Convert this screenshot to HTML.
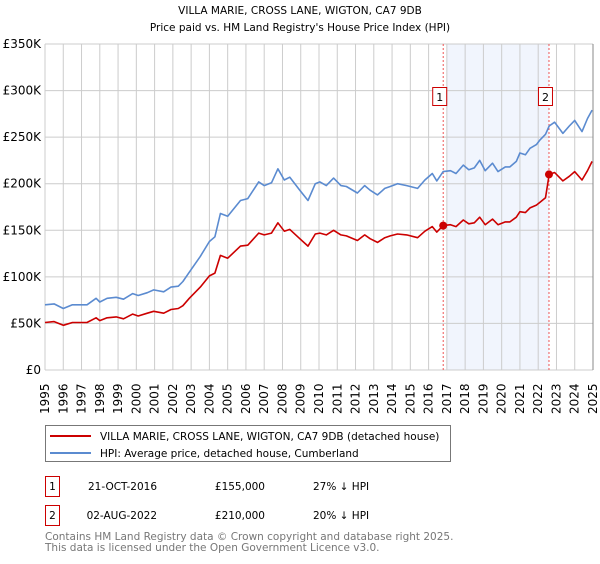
<!DOCTYPE html>
<html><head><meta charset="utf-8"><style>
body{margin:0;width:600px;height:560px;background:#fff;font-family:"DejaVu Sans","Liberation Sans",sans-serif;overflow:hidden}
svg text{font-family:"DejaVu Sans","Liberation Sans",sans-serif}
</style></head><body>
<svg id="c" width="600" height="560">
<text x="300" y="14" text-anchor="middle" font-size="10.5">VILLA MARIE, CROSS LANE, WIGTON, CA7 9DB</text>
<text x="300" y="31" text-anchor="middle" font-size="10.5">Price paid vs. HM Land Registry's House Price Index (HPI)</text>
<g id="grid"></g><g id="series"></g><g id="axes"></g>
<g>
<rect x="45.5" y="425.5" width="405" height="36" fill="#fff" stroke="#777"/>
<line x1="50" y1="436" x2="91" y2="436" stroke="#cc0000" stroke-width="2"/>
<text x="100" y="440" font-size="10.5">VILLA MARIE, CROSS LANE, WIGTON, CA7 9DB (detached house)</text>
<line x1="50" y1="453" x2="91" y2="453" stroke="#5b8bd0" stroke-width="2"/>
<text x="100" y="457" font-size="10.5">HPI: Average price, detached house, Cumberland</text>
</g>
<g font-size="10.5">
<rect x="45.5" y="476.5" width="14" height="20" fill="#fff" stroke="#cc0000"/>
<text x="52.5" y="490" text-anchor="middle">1</text>
<text x="157" y="490" text-anchor="end">21-OCT-2016</text>
<text x="265" y="490" text-anchor="end">£155,000</text>
<text x="313" y="490">27% ↓ HPI</text>
<rect x="45.5" y="505.5" width="14" height="20" fill="#fff" stroke="#cc0000"/>
<text x="52.5" y="519" text-anchor="middle">2</text>
<text x="157" y="519" text-anchor="end">02-AUG-2022</text>
<text x="265" y="519" text-anchor="end">£210,000</text>
<text x="313" y="519">20% ↓ HPI</text>
</g>
<text x="45" y="540" font-size="10.5" fill="#777">Contains HM Land Registry data © Crown copyright and database right 2025.</text>
<text x="45" y="551" font-size="10.5" fill="#777">This data is licensed under the Open Government Licence v3.0.</text>
</svg>
<script>
const dates=[1995.0,1995.5,1996.0,1996.5,1997.3,1997.8,1998.0,1998.4,1998.9,1999.3,1999.8,2000.1,2000.6,2000.95,2001.5,2001.9,2002.3,2002.55,2002.9,2003.5,2004.0,2004.3,2004.6,2005.0,2005.7,2006.1,2006.7,2007.0,2007.4,2007.75,2008.1,2008.4,2008.95,2009.4,2009.8,2010.05,2010.4,2010.8,2011.2,2011.5,2012.1,2012.5,2012.8,2013.2,2013.6,2013.9,2014.3,2014.8,2015.4,2015.8,2016.2,2016.45,2016.8,2017.2,2017.5,2017.9,2018.2,2018.5,2018.8,2019.1,2019.5,2019.8,2020.2,2020.45,2020.8,2021.0,2021.3,2021.55,2021.9,2022.1,2022.4,2022.6,2022.9,2023.35,2023.7,2024.0,2024.4,2024.7,2024.95];
const hpi=[70,71,66,70,70,77,73,77,78,76,82,80,83,86,84,89,90,95,105,122,138,143,168,165,182,184,202,198,201,216,204,207,193,182,200,202,198,206,198,197,190,198,193,188,195,197,200,198,195,204,211,203,213,214,211,220,215,217,225,214,222,213,218,218,224,233,231,238,242,247,253,262,266,254,262,268,256,270,279];
const pricePaid=[51,52,48,51,51,56,53,56,57,55,60,58,61,63,61,65,66,69,77,89,101,104,123,120,133,134,147,145,147,158,149,151,141,133,146,147,145,150,145,144,139,145,141,137,142,144,146,145,142,149,154,148,155,156,154,161,157,158,164,156,162,156,159,159,164,170,169,174,177,180,185,210,212,203,208,213,204,214,224];
const saleDates=[2016.8,2022.59];
const salePrices=[155,210];
const saleLabels=["1","2"];
const yTicks=[0,50,100,150,200,250,300,350];
const yTickLabels=["£0","£50K","£100K","£150K","£200K","£250K","£300K","£350K"];
const xYears=[1995,1996,1997,1998,1999,2000,2001,2002,2003,2004,2005,2006,2007,2008,2009,2010,2011,2012,2013,2014,2015,2016,2017,2018,2019,2020,2021,2022,2023,2024,2025];
const L=45,R=593,T=44,B=370;
const X=v=>L+(v-1995)/30*(R-L);
const Y=v=>B-v/350*(B-T);
const NS="http://www.w3.org/2000/svg";
function mk(p,t,a){const e=document.createElementNS(NS,t);for(const k in a)e.setAttribute(k,a[k]);p.appendChild(e);return e;}
const g=document.getElementById('grid'),s=document.getElementById('series'),ax=document.getElementById('axes');
const shade=mk(g,'rect',{x:X(2017.0),y:T,width:X(saleDates[1])-X(2017.0),height:B-T,fill:'#eef2fc',opacity:0.8});


yTicks.forEach((v,i)=>{
 const l=mk(g,'line',{x1:L,x2:R,y1:Y(v),y2:Y(v),stroke:'#ccc'});
 
 
 const t=mk(ax,'text',{x:L-4,y:Y(v)+4,'text-anchor':'end','font-size':12});
 t.textContent=yTickLabels[i];
 
 
});
xYears.forEach(yr=>{
 const l=mk(g,'line',{x1:X(yr),x2:X(yr),y1:T,y2:B,stroke:'#ccc'});
 
 
 const t=mk(ax,'text',{x:0,y:0,'font-size':12,transform:`translate(${X(yr)+4},${B+44}) rotate(-90)`});
 t.textContent=yr;
 
 
});
mk(ax,'line',{x1:R,x2:R,y1:T,y2:B,stroke:'#888'});
saleDates.forEach((d,i)=>{
 const l=mk(g,'line',{x1:X(d),x2:X(d),y1:T,y2:B,stroke:'#e55','stroke-dasharray':'2,2'});
 
 
 const bx=mk(ax,'rect',{x:X(d)-10.5,y:87.5,width:14,height:18,fill:'#fff',stroke:'#cc0000'});
 
 
 const t=mk(ax,'text',{x:X(d)-3.5,y:101,'text-anchor':'middle','font-size':11});
 t.textContent=saleLabels[i];
});
const path=(arr,c,name)=>{
 const p=mk(s,'path',{d:arr.map((v,i)=>(i?'L':'M')+X(dates[i]).toFixed(1)+','+Y(v).toFixed(1)).join(''),fill:'none',stroke:c,'stroke-width':1.6,'stroke-linejoin':'round'});
 
 
};
path(hpi,'#5b8bd0','hpi-line');
path(pricePaid,'#cc0000','price-paid-line');
saleDates.forEach((d,i)=>{
 const c=mk(s,'circle',{cx:X(d),cy:Y(salePrices[i]),r:4,fill:'#cc0000'});
 
 
});
</script>
</body></html>
